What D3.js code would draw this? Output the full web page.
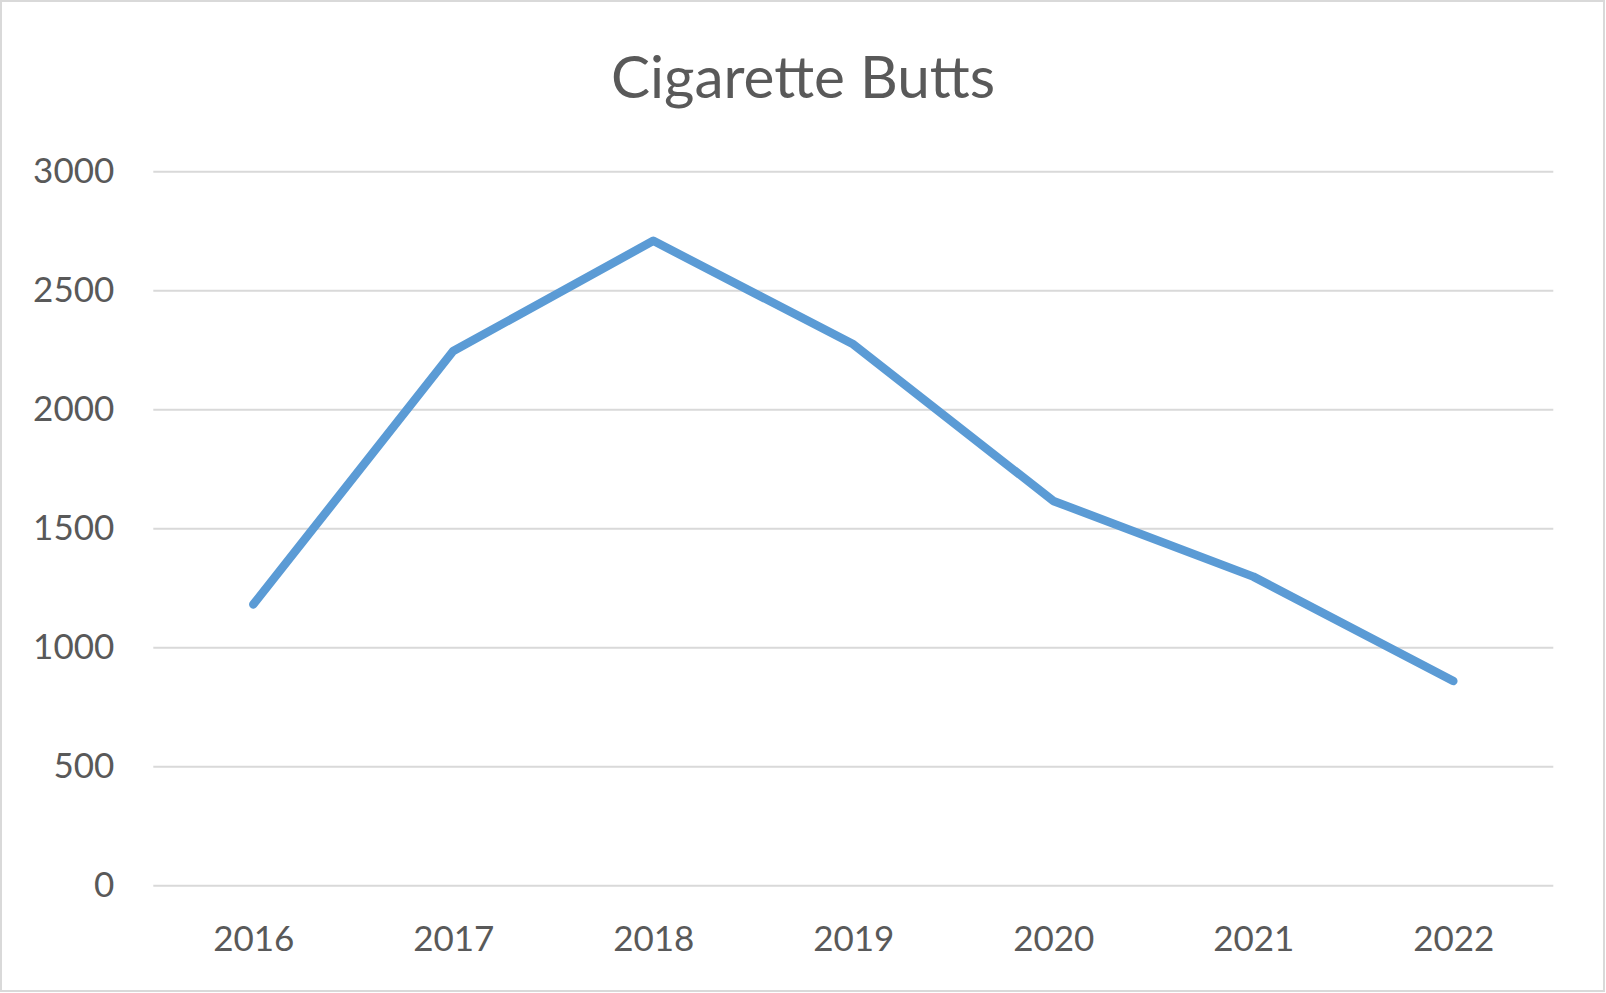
<!DOCTYPE html>
<html>
<head>
<meta charset="utf-8">
<script src="https://cdn.jsdelivr.net/npm/d3@7"></script>
<style>
  html, body { margin: 0; padding: 0; background: #ffffff; }
  svg { display: block; }
  text { font-family: Lato, "Open Sans", sans-serif; fill: #595959; }
</style>
</head>
<body>
<svg id="chart" width="1606" height="993"></svg>
<script>
const title = "Cigarette Butts";
const years = ["2016", "2017", "2018", "2019", "2020", "2021", "2022"];
const butts = [1180, 2245, 2708, 2273, 1615, 1297, 858];
const yTicks = [0, 500, 1000, 1500, 2000, 2500, 3000];

const W = 1606, H = 993;
const plot = { left: 153.3, right: 1553.3, top: 171.3, bottom: 885.3 };

const svg = d3.select("#chart");

// chart area border
svg.append("rect")
  .attr("x", 1).attr("y", 1)
  .attr("width", W - 3).attr("height", H - 3)
  .attr("fill", "#ffffff")
  .attr("stroke", "#D9D9D9")
  .attr("stroke-width", 2);

const x = d3.scalePoint().domain(years).range([plot.left, plot.right]).padding(0.5);
const y = d3.scaleLinear().domain([0, 3000]).range([plot.bottom, plot.top]);

// gridlines + y labels via axis
const yAxis = d3.axisLeft(y).tickValues(yTicks).tickSize(-(plot.right - plot.left)).tickPadding(39).tickFormat(d3.format("d"));
const gy = svg.append("g").attr("transform", `translate(${plot.left},0)`).call(yAxis);
gy.select(".domain").remove();
gy.selectAll(".tick line").attr("stroke", "#D9D9D9").attr("stroke-width", 2);
gy.selectAll(".tick text")
  .attr("font-size", 35).attr("fill", "#595959")
  .attr("font-family", "Lato, 'Open Sans', sans-serif");

// x labels via axis
const xAxis = d3.axisBottom(x).tickSize(0).tickPadding(41);
const gx = svg.append("g").attr("transform", `translate(0,${plot.bottom})`).call(xAxis);
gx.select(".domain").remove();
gx.selectAll(".tick text")
  .attr("font-size", 35).attr("fill", "#595959")
  .attr("font-family", "Lato, 'Open Sans', sans-serif");

// line
const line = d3.line().x((d, i) => x(years[i])).y(d => y(d));
svg.append("path")
  .datum(butts)
  .attr("d", line)
  .attr("fill", "none")
  .attr("stroke", "#5B9BD5")
  .attr("stroke-width", 8.5)
  .attr("stroke-linecap", "round")
  .attr("stroke-linejoin", "round");

// title
svg.append("text")
  .attr("x", 803).attr("y", 97.7)
  .attr("text-anchor", "middle")
  .attr("font-size", 58.5)
  .text(title);
</script>
</body>
</html>
